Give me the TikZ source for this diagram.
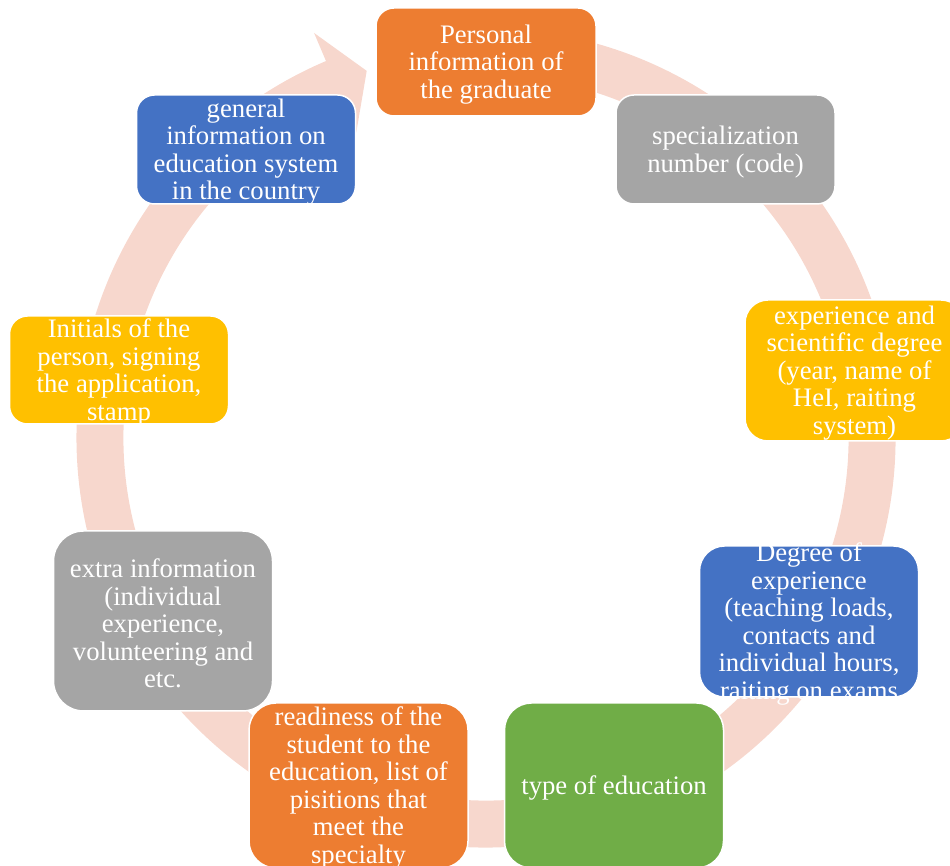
\documentclass[tikz,border=0pt]{standalone}
\usepackage{fontspec}
\setmainfont{Liberation Serif}
\definecolor{ringc}{RGB}{247,215,205}
\definecolor{cOrange}{HTML}{ED7D31}
\definecolor{cGray}{HTML}{A5A5A5}
\definecolor{cYellow}{HTML}{FFC000}
\definecolor{cBlue}{HTML}{4472C4}
\definecolor{cGreen}{HTML}{70AD47}
\begin{document}
\begin{tikzpicture}[x=1pt,y=1pt,
  shp/.style={draw=white, line width=1.5pt, inner sep=0pt, minimum width=219pt},
  txt/.style={text=white, align=center, inner sep=0pt, yshift=-2.5pt, font=\fontsize{26.7}{27.5}\selectfont}]
\useasboundingbox (0,0) rectangle (950,866);
\clip (0,0) rectangle (950,866);
% background circular arrow
\begin{scope}[shift={(486,428)}]
\fill[ringc] (100:409.5) arc[start angle=100,end angle=-247,radius=409.5]
  -- (113:440) -- (108:386) -- (113:332) -- (113:362.5)
  arc[start angle=-247,end angle=100,radius=362.5] -- cycle;
\end{scope}
% boxes
\node[shp, fill=cOrange, minimum width=220pt, minimum height=108pt, rounded corners=18pt] (b1) at (486,804) {};
\node[txt] (t1) at (b1.center) {Personal\\information of\\the graduate};

\node[shp, fill=cGray, minimum height=109pt, rounded corners=18pt] (b2) at (725.5,716.5) {};
\node[txt] (t2) at (b2.center) {specialization\\number (code)};

\node[shp, fill=cYellow, minimum height=141pt, rounded corners=23pt] (b3) at (854.5,495.5) {};
\node[txt] (t3) at (b3.center) {experience and\\scientific degree\\(year, name of\\HeI, raiting\\system)};

\node[shp, fill=cBlue, minimum height=151pt, rounded corners=25pt] (b4) at (809,244.5) {};
\node[txt] (t4) at (b4.center) {Degree of\\experience\\(teaching loads,\\contacts and\\individual hours,\\raiting on exams};

\node[shp, fill=cGreen, minimum height=165pt, rounded corners=27pt] (b5) at (614,80.5) {};
\node[txt] (t5) at (b5.center) {type of education};

\node[shp, fill=cOrange, minimum height=165pt, rounded corners=27pt] (b6) at (358.5,80.5) {};
\node[txt] (t6) at (b6.center) {readiness of the\\student to the\\education, list of\\pisitions that\\meet the\\specialty};

\node[shp, fill=cGray, minimum height=180pt, rounded corners=30pt] (b7) at (163,245) {};
\node[txt] (t7) at (b7.center) {extra information\\(individual\\experience,\\volunteering and\\etc.};

\node[shp, fill=cYellow, minimum height=108pt, rounded corners=18pt] (b8) at (119,496) {};
\node[txt] (t8) at (b8.center) {Initials of the\\person, signing\\the application,\\stamp};

\node[shp, fill=cBlue, minimum height=109pt, rounded corners=18pt] (b9) at (246,716.5) {};
\node[txt] (t9) at (b9.center) {general\\information on\\education system\\in the country};
\end{tikzpicture}
\end{document}
